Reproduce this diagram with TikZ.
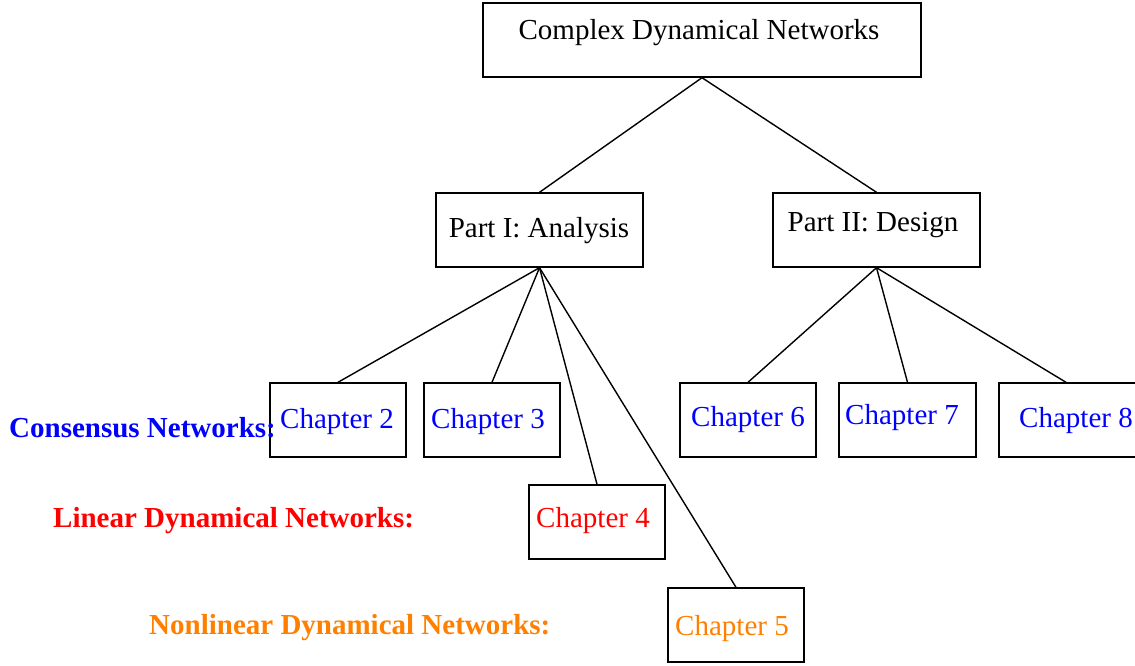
\documentclass[tikz,border=0pt]{standalone}
\usepackage{fontspec}
\setmainfont{Liberation Serif}
\definecolor{myblue}{RGB}{0,0,255}
\definecolor{myred}{RGB}{255,0,0}
\definecolor{myorange}{RGB}{255,128,0}
\begin{document}
\begin{tikzpicture}[x=1pt,y=-1pt,
  box/.style={draw=black,line width=1.4pt,rectangle,inner sep=0pt},
  link/.style={draw=black,line width=1.4pt},
  txt/.style={inner sep=0pt,font=\fontsize{29}{32}\selectfont},
  lab/.style={inner sep=0pt,font=\fontsize{29}{32}\selectfont\bfseries}]
\useasboundingbox (0,0) rectangle (1135,666);
\clip (0,0) rectangle (1135,666);
% boxes
\node[box,minimum width=438pt,minimum height=74pt] (root) at (702,40) {};
\node[box,minimum width=207pt,minimum height=74pt] (p1) at (539.5,230) {};
\node[box,minimum width=207pt,minimum height=74pt] (p2) at (876.5,230) {};
\node[box,minimum width=136pt,minimum height=74pt] (c2) at (338,420) {};
\node[box,minimum width=136pt,minimum height=74pt] (c3) at (492,420) {};
\node[box,minimum width=136pt,minimum height=74pt] (c4) at (597,522) {};
\node[box,minimum width=136pt,minimum height=74pt] (c5) at (736,625) {};
\node[box,minimum width=136pt,minimum height=74pt] (c6) at (748,420) {};
\node[box,minimum width=137pt,minimum height=74pt] (c7) at (907.5,420) {};
\node[box,minimum width=141pt,minimum height=74pt] (c8) at (1069.5,420) {};
% texts
\node[txt] (troot) at (699,33) {Complex Dynamical Networks};
\node[txt] (tp1) at (539,231) {Part I: Analysis};
\node[txt] (tp2) at (873,225) {Part II: Design};
\node[txt,text=myblue] (tc2) at (337,422) {Chapter 2};
\node[txt,text=myblue] (tc3) at (488,422) {Chapter 3};
\node[txt,text=myred] (tc4) at (593,521) {Chapter 4};
\node[txt,text=myorange] (tc5) at (732,629) {Chapter 5};
\node[txt,text=myblue] (tc6) at (748,420) {Chapter 6};
\node[txt,text=myblue] (tc7) at (902,418) {Chapter 7};
\node[txt,text=myblue] (tc8) at (1076,421) {Chapter 8};
% side labels
\node[lab,text=myblue,anchor=west] (l1) at (9,428) {Consensus Networks:};
\node[lab,text=myred,anchor=west] (l2) at (53,521) {Linear Dynamical Networks:};
\node[lab,text=myorange,anchor=west] (l3) at (149,628) {Nonlinear Dynamical Networks:};
% connectors
\draw[link] (root.south) -- (p1.north);
\draw[link] (root.south) -- (p2.north);
\draw[link] (p1.south) -- (c2.north);
\draw[link] (p1.south) -- (c3.north);
\draw[link] (p1.south) -- (c4.north);
\draw[link] (p1.south) -- (c5.north);
\draw[link] (p2.south) -- (c6.north);
\draw[link] (p2.south) -- (c7.north);
\draw[link] (p2.south) -- ([xshift=-3.5pt]c8.north);
\end{tikzpicture}
\end{document}
